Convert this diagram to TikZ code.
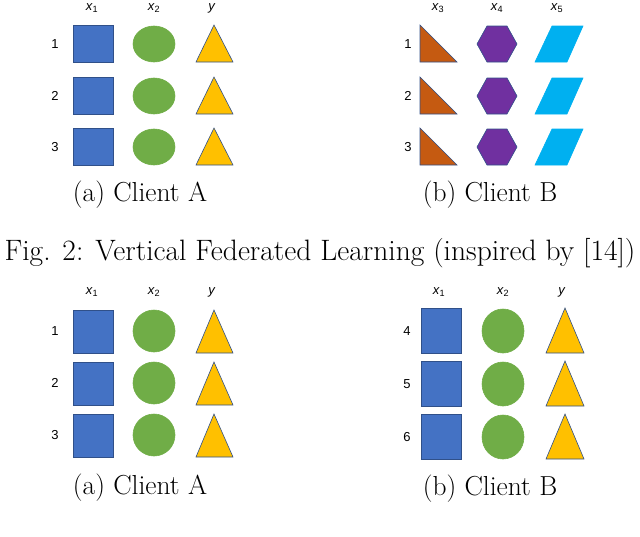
\documentclass[tikz,border=0pt]{standalone}
\usepackage{fontspec}
\newfontfamily\lsans{Liberation Sans}
\definecolor{sqblue}{HTML}{4472C4}
\definecolor{cgreen}{HTML}{70AD47}
\definecolor{tgold}{HTML}{FFC000}
\definecolor{rorange}{HTML}{C55A11}
\definecolor{hpurple}{HTML}{7030A0}
\definecolor{pcyan}{HTML}{00B0F0}
\newcommand{\feat}[2]{\textit{#1}\textsubscript{#2}}
\tikzset{
  shp/.style={draw=sqblue!70!black,line width=.6pt},
  lbl/.style={font=\lsans\fontsize{13}{15}\selectfont},
  subcap/.style={font=\fontsize{27.5}{32}\selectfont},
  figcap/.style={font=\fontsize{29.5}{34}\selectfont}
}
\begin{document}
\begin{tikzpicture}[x=1pt,y=-1pt]
    \useasboundingbox (0,0) rectangle (640,536);

    % top: vertical split
    \node[lbl] (ta1) at (92,8) {\feat{x}{1}};
    \node[lbl] (ta2) at (154,8) {\feat{x}{2}};
    \node[lbl] (ta3) at (212,8) {\textit{y}};
    \node[lbl] (tb1) at (438,8) {\feat{x}{3}};
    \node[lbl] (tb2) at (497,8) {\feat{x}{4}};
    \node[lbl] (tb3) at (557,8) {\feat{x}{5}};
    \foreach \r/\c in {1/44,2/96,3/147}{
      \node[lbl] (tan\r) at (55,\c) {\r};
      \node[lbl] (tbn\r) at (408,\c) {\r};
      \begin{scope}[shp]
        \draw[fill=sqblue] (73,\c-19) rectangle (113,\c+18);
        \draw[fill=cgreen,draw=cgreen] (154,\c) ellipse (21 and 18);
        \draw[fill=tgold] (196,\c+18)--(214,\c-19)--(233,\c+18)--cycle;
        \draw[fill=rorange] (420,\c-19)--(457,\c+18)--(420,\c+18)--cycle;
        \draw[fill=hpurple] (477,\c)--(487,\c-18)--(507,\c-18)--(517,\c)
          --(507,\c+18)--(487,\c+18)--cycle;
        \draw[fill=pcyan,draw=pcyan] (552,\c-18)--(583,\c-18)--(567,\c+18)
          --(535,\c+18)--cycle;
      \end{scope}
    }
    \node[subcap] (tcapa) at (140,195) {(a) Client A};
    \node[subcap] (tcapb) at (490,195) {(b) Client B};
    \node[figcap] (fig) at (320,253) {Fig. 2: Vertical Federated Learning (inspired by [14])};

    % bottom: horizontal split
    \node[lbl] (ba1) at (92,292) {\feat{x}{1}};
    \node[lbl] (ba2) at (154,292) {\feat{x}{2}};
    \node[lbl] (ba3) at (212,292) {\textit{y}};
    \node[lbl] (bb1) at (439,292) {\feat{x}{1}};
    \node[lbl] (bb2) at (503,292) {\feat{x}{2}};
    \node[lbl] (bb3) at (562,292) {\textit{y}};
    \foreach \r/\c in {1/331,2/383,3/435}{
      \node[lbl] (ban\r) at (55,\c) {\r};
      \begin{scope}[shp]
        \draw[fill=sqblue] (73,\c-21) rectangle (113,\c+22);
        \draw[fill=cgreen,draw=cgreen] (154,\c) circle (21);
        \draw[fill=tgold] (196,\c+22)--(214,\c-21)--(233,\c+22)--cycle;
      \end{scope}
    }
    \foreach \r/\c in {4/331,5/384,6/437}{
      \node[lbl] (bbn\r) at (407,\c) {\r};
      \begin{scope}[shp]
        \draw[fill=sqblue] (421,\c-23) rectangle (461,\c+22);
        \draw[fill=cgreen,draw=cgreen] (503,\c) ellipse (21 and 22);
        \draw[fill=tgold] (546,\c+22)--(565,\c-23)--(584,\c+22)--cycle;
      \end{scope}
    }
    \node[subcap] (bcapa) at (140,488) {(a) Client A};
    \node[subcap] (bcapb) at (490,489) {(b) Client B};
\end{tikzpicture}
\end{document}
